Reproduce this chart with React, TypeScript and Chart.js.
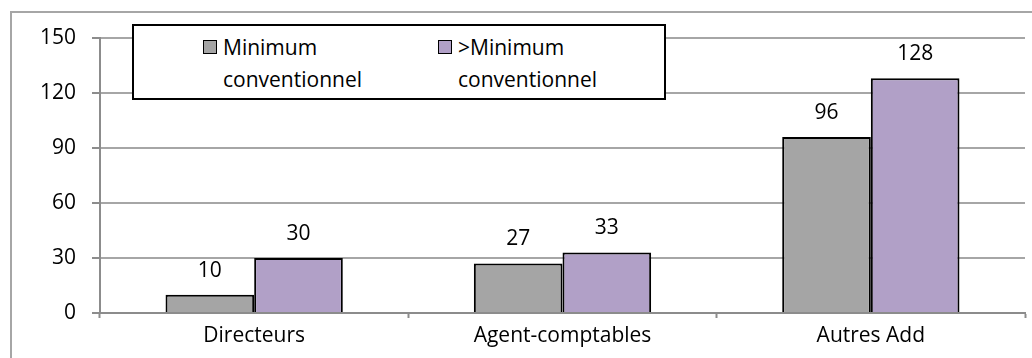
import React, { useEffect, useRef } from "react";
import { Chart, registerables } from "chart.js";

Chart.register(...registerables);

const categories = ["Directeurs", "Agent-comptables", "Autres Add"];
const minimumValues = [10, 27, 96];
const aboveMinimumValues = [30, 33, 128];
const seriesLabels = [
  ["Minimum", "conventionnel"],
  [">Minimum", "conventionnel"],
];
const seriesColors = ["#a5a5a5", "#b1a0c7"];
const yMin = 0;
const yMax = 150;
const yStep = 30;

const FONT = "'Open Sans', 'Noto Sans', sans-serif";
const FONT_SIZE = 21;

const valueLabels = {
  id: "valueLabels",
  afterDatasetsDraw(chart: any) {
    const ctx = chart.ctx;
    ctx.save();
    ctx.font = `${FONT_SIZE}px ${FONT}`;
    ctx.fillStyle = "#000";
    ctx.textAlign = "center";
    ctx.textBaseline = "middle";
    chart.data.datasets.forEach((ds: any, i: number) => {
      chart.getDatasetMeta(i).data.forEach((bar: any, j: number) => {
        ctx.fillText(String(ds.data[j]), bar.x, bar.y - 24);
      });
    });
    ctx.restore();
  },
};

export default function App() {
  const canvasRef = useRef<HTMLCanvasElement | null>(null);

  useEffect(() => {
    if (!canvasRef.current) return;
    const chart = new Chart(canvasRef.current, {
      type: "bar",
      data: {
        labels: categories,
        datasets: [
          {
            label: seriesLabels[0].join(" "),
            data: minimumValues,
            backgroundColor: seriesColors[0],
            borderColor: "#000",
            borderWidth: 2,
          },
          {
            label: seriesLabels[1].join(" "),
            data: aboveMinimumValues,
            backgroundColor: seriesColors[1],
            borderColor: "#000",
            borderWidth: 2,
          },
        ],
      },
      options: {
        animation: false,
        responsive: false,
        devicePixelRatio: 1,
        layout: { padding: { top: 38, right: 7, left: 0, bottom: 0 } },
        datasets: {
          bar: { categoryPercentage: 0.575, barPercentage: 1.0 },
        },
        plugins: {
          legend: { display: false },
          tooltip: { enabled: false },
          title: { display: false },
        },
        scales: {
          x: {
            offset: true,
            grid: {
              offset: true,
              drawOnChartArea: false,
              drawTicks: true,
              tickLength: 5,
              tickWidth: 2,
              tickColor: "#8c8c8c",
            },
            border: { display: true, color: "#8c8c8c", width: 2 },
            ticks: {
              color: "#000",
              font: { family: FONT, size: FONT_SIZE },
              padding: 5,
              maxRotation: 0,
              autoSkip: false,
            },
            afterFit: (scale: any) => {
              scale.height = 45;
            },
          },
          y: {
            min: yMin,
            max: yMax,
            grid: {
              color: "#a6a6a6",
              lineWidth: 2,
              drawTicks: true,
              tickLength: 8,
              tickColor: "#8c8c8c",
              tickWidth: 2,
            },
            border: { display: true, color: "#8c8c8c", width: 2 },
            ticks: {
              stepSize: yStep,
              color: "#000",
              font: { family: FONT, size: FONT_SIZE },
              padding: 16,
            },
            afterFit: (scale: any) => {
              scale.width = 100;
            },
          },
        },
      },
      plugins: [valueLabels],
    });
    return () => chart.destroy();
  }, []);

  const legendEntries = [
    { left: 203, color: seriesColors[0], lines: seriesLabels[0] },
    { left: 438, color: seriesColors[1], lines: seriesLabels[1] },
  ];

  return (
    <div
      style={{
        position: "fixed",
        left: 0,
        top: 0,
        width: 1032,
        height: 358,
        overflow: "hidden",
        background: "#fff",
        fontFamily: FONT,
      }}
    >
      <div
        style={{
          position: "absolute",
          left: 10,
          top: 11,
          width: 1100,
          height: 400,
          border: "2px solid #a6a6a6",
          boxSizing: "border-box",
        }}
      />
      <canvas
        ref={canvasRef}
        width={1032}
        height={358}
        style={{ position: "absolute", left: 0, top: 0, width: 1032, height: 358 }}
      />
      <div
        style={{
          position: "absolute",
          left: 132,
          top: 24,
          width: 534,
          height: 76,
          border: "2px solid #000",
          boxSizing: "border-box",
          background: "#fff",
        }}
      />
      {legendEntries.map((e, i) => (
        <React.Fragment key={i}>
          <div
            style={{
              position: "absolute",
              left: e.left,
              top: 40,
              width: 14,
              height: 14,
              background: e.color,
              border: "1px solid #000",
              boxSizing: "border-box",
            }}
          />
          <div
            style={{
              position: "absolute",
              left: e.left + 20,
              top: 31,
              fontSize: FONT_SIZE,
              lineHeight: "32px",
              color: "#000",
              whiteSpace: "nowrap",
            }}
          >
            {e.lines.map((l, k) => (
              <div key={k}>{l}</div>
            ))}
          </div>
        </React.Fragment>
      ))}
    </div>
  );
}
